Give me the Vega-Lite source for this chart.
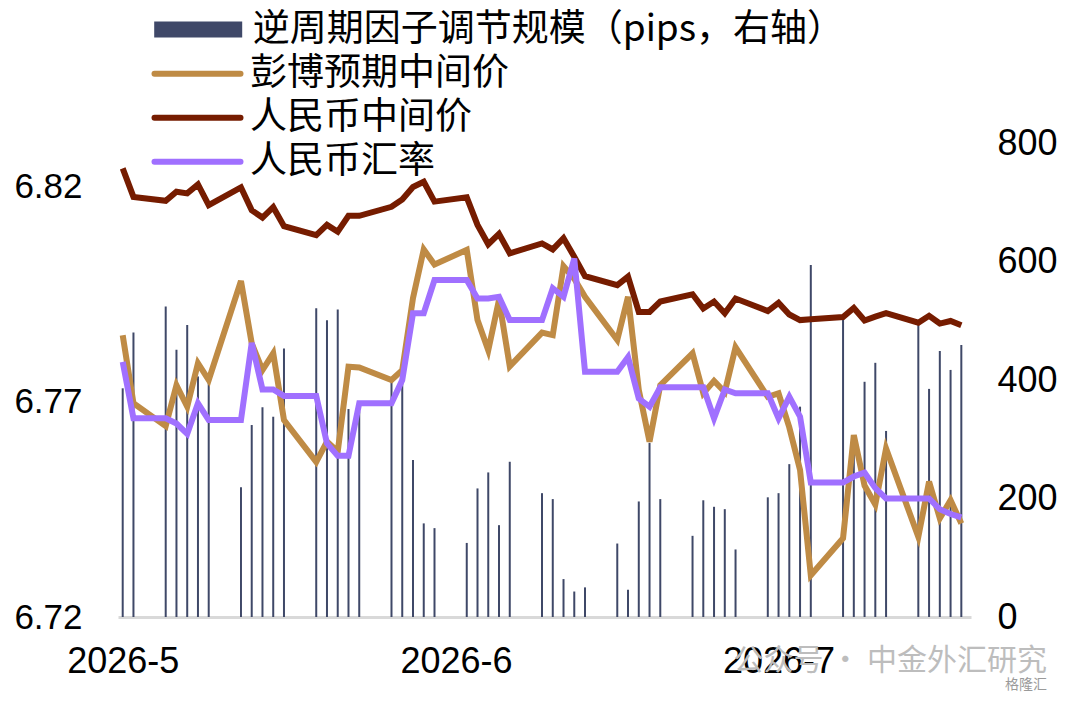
{
  "$schema": "https://vega.github.io/schema/vega-lite/v6.json",
  "width": 853,
  "height": 474,
  "autosize": "none",
  "padding": {"left": 118, "top": 143, "right": 109, "bottom": 87},
  "background": "white",
  "title": {
    "text": "公众号 · 中金外汇研究",
    "subtitle": "格隆汇",
    "orient": "bottom",
    "anchor": "end",
    "dx": -10,
    "offset": -33,
    "font": "Noto Sans CJK SC",
    "fontSize": 30,
    "fontWeight": "normal",
    "color": "#bdbdbd",
    "subtitleFont": "Noto Sans CJK SC",
    "subtitleFontSize": 14,
    "subtitleColor": "#9a9a9a",
    "subtitlePadding": 2
  },
  "data": {
    "values": [
      {"date": "2026-05-01T00:00", "scale": 386, "bbg": 6.7854, "mid": 6.8241, "spot": 6.7792},
      {"date": "2026-05-02T00:00", "scale": 480, "bbg": 6.7696, "mid": 6.8175, "spot": 6.7661},
      {"date": "2026-05-05T00:00", "scale": 524, "bbg": 6.7643, "mid": 6.8166, "spot": 6.7661},
      {"date": "2026-05-06T00:00", "scale": 451, "bbg": 6.7738, "mid": 6.8187, "spot": 6.7649},
      {"date": "2026-05-07T00:00", "scale": 493, "bbg": 6.7688, "mid": 6.8183, "spot": 6.7625},
      {"date": "2026-05-08T00:00", "scale": 406, "bbg": 6.7789, "mid": 6.8204, "spot": 6.7696},
      {"date": "2026-05-09T00:00", "scale": 400, "bbg": 6.7750, "mid": 6.8156, "spot": 6.7657},
      {"date": "2026-05-12T00:00", "scale": 219, "bbg": 6.7980, "mid": 6.8197, "spot": 6.7657},
      {"date": "2026-05-13T00:00", "scale": 324, "bbg": 6.7835, "mid": 6.8144, "spot": 6.7836},
      {"date": "2026-05-14T00:00", "scale": 354, "bbg": 6.7773, "mid": 6.8127, "spot": 6.7728},
      {"date": "2026-05-15T00:00", "scale": 338, "bbg": 6.7812, "mid": 6.8151, "spot": 6.7728},
      {"date": "2026-05-16T00:00", "scale": 453, "bbg": 6.7657, "mid": 6.8107, "spot": 6.7713},
      {"date": "2026-05-19T00:00", "scale": 521, "bbg": 6.7560, "mid": 6.8086, "spot": 6.7713},
      {"date": "2026-05-20T00:00", "scale": 501, "bbg": 6.7607, "mid": 6.8110, "spot": 6.7603},
      {"date": "2026-05-21T00:00", "scale": 519, "bbg": 6.7584, "mid": 6.8094, "spot": 6.7574},
      {"date": "2026-05-22T00:00", "scale": 351, "bbg": 6.7781, "mid": 6.8131, "spot": 6.7574},
      {"date": "2026-05-23T00:00", "scale": 347, "bbg": 6.7779, "mid": 6.8131, "spot": 6.7696},
      {"date": "2026-05-26T00:00", "scale": 397, "bbg": 6.7750, "mid": 6.8152, "spot": 6.7696},
      {"date": "2026-05-27T00:00", "scale": 403, "bbg": 6.7773, "mid": 6.8169, "spot": 6.7750},
      {"date": "2026-05-28T00:00", "scale": 265, "bbg": 6.7940, "mid": 6.8198, "spot": 6.7905},
      {"date": "2026-05-29T00:00", "scale": 158, "bbg": 6.8053, "mid": 6.8210, "spot": 6.7905},
      {"date": "2026-05-30T00:00", "scale": 150, "bbg": 6.8018, "mid": 6.8164, "spot": 6.7982},
      {"date": "2026-06-02T00:00", "scale": 125, "bbg": 6.8052, "mid": 6.8174, "spot": 6.7982},
      {"date": "2026-06-03T00:00", "scale": 217, "bbg": 6.7889, "mid": 6.8110, "spot": 6.7939},
      {"date": "2026-06-04T00:00", "scale": 244, "bbg": 6.7819, "mid": 6.8065, "spot": 6.7939},
      {"date": "2026-06-05T00:00", "scale": 155, "bbg": 6.7936, "mid": 6.8089, "spot": 6.7943},
      {"date": "2026-06-06T00:00", "scale": 262, "bbg": 6.7782, "mid": 6.8044, "spot": 6.7889},
      {"date": "2026-06-09T00:00", "scale": 209, "bbg": 6.7860, "mid": 6.8067, "spot": 6.7889},
      {"date": "2026-06-10T00:00", "scale": 199, "bbg": 6.7854, "mid": 6.8053, "spot": 6.7963},
      {"date": "2026-06-11T00:00", "scale": 64, "bbg": 6.8014, "mid": 6.8079, "spot": 6.7943},
      {"date": "2026-06-12T00:00", "scale": 43, "bbg": 6.7985, "mid": 6.8036, "spot": 6.8032},
      {"date": "2026-06-13T00:00", "scale": 50, "bbg": 6.7943, "mid": 6.7991, "spot": 6.7769},
      {"date": "2026-06-16T00:00", "scale": 124, "bbg": 6.7843, "mid": 6.7970, "spot": 6.7769},
      {"date": "2026-06-17T00:00", "scale": 46, "bbg": 6.7943, "mid": 6.7990, "spot": 6.7803},
      {"date": "2026-06-18T00:00", "scale": 195, "bbg": 6.7727, "mid": 6.7908, "spot": 6.7707},
      {"date": "2026-06-19T00:00", "scale": 294, "bbg": 6.7607, "mid": 6.7908, "spot": 6.7688},
      {"date": "2026-06-20T00:00", "scale": 199, "bbg": 6.7738, "mid": 6.7932, "spot": 6.7733},
      {"date": "2026-06-23T00:00", "scale": 137, "bbg": 6.7812, "mid": 6.7949, "spot": 6.7733},
      {"date": "2026-06-24T00:00", "scale": 197, "bbg": 6.7719, "mid": 6.7916, "spot": 6.7733},
      {"date": "2026-06-25T00:00", "scale": 186, "bbg": 6.7748, "mid": 6.7932, "spot": 6.7661},
      {"date": "2026-06-26T00:00", "scale": 182, "bbg": 6.7722, "mid": 6.7905, "spot": 6.7728},
      {"date": "2026-06-27T00:00", "scale": 114, "bbg": 6.7826, "mid": 6.7939, "spot": 6.7719},
      {"date": "2026-06-30T00:00", "scale": 202, "bbg": 6.7711, "mid": 6.7910, "spot": 6.7719},
      {"date": "2026-07-01T00:00", "scale": 209, "bbg": 6.7719, "mid": 6.7929, "spot": 6.7661},
      {"date": "2026-07-02T00:00", "scale": 258, "bbg": 6.7640, "mid": 6.7902, "spot": 6.7711},
      {"date": "2026-07-03T00:00", "scale": 355, "bbg": 6.7541, "mid": 6.7889, "spot": 6.7665},
      {"date": "2026-07-04T00:00", "scale": 594, "bbg": 6.7297, "mid": 6.7891, "spot": 6.7512},
      {"date": "2026-07-07T00:00", "scale": 503, "bbg": 6.7383, "mid": 6.7896, "spot": 6.7512},
      {"date": "2026-07-08T00:00", "scale": 282, "bbg": 6.7622, "mid": 6.7917, "spot": 6.7526},
      {"date": "2026-07-09T00:00", "scale": 397, "bbg": 6.7505, "mid": 6.7888, "spot": 6.7535},
      {"date": "2026-07-10T00:00", "scale": 429, "bbg": 6.7461, "mid": 6.7897, "spot": 6.7499},
      {"date": "2026-07-11T00:00", "scale": 314, "bbg": 6.7591, "mid": 6.7905, "spot": 6.7475},
      {"date": "2026-07-14T00:00", "scale": 496, "bbg": 6.7386, "mid": 6.7883, "spot": 6.7475},
      {"date": "2026-07-15T00:00", "scale": 385, "bbg": 6.7514, "mid": 6.7899, "spot": 6.7475},
      {"date": "2026-07-16T00:00", "scale": 449, "bbg": 6.7429, "mid": 6.7881, "spot": 6.7450},
      {"date": "2026-07-17T00:00", "scale": 417, "bbg": 6.7471, "mid": 6.7887, "spot": 6.7439},
      {"date": "2026-07-18T00:00", "scale": 459, "bbg": 6.7417, "mid": 6.7877, "spot": 6.7431}
    ]
  },
  "layer": [
    {
      "mark": {"type": "bar", "width": 2},
      "encoding": {
        "x": {
          "field": "date",
          "type": "temporal",
          "scale": {
            "nice": false,
            "padding": 0,
            "domain": [
              {"year": 2026, "month": 4, "date": 30, "hours": 13, "minutes": 30},
              {"year": 2026, "month": 7, "date": 18, "hours": 21, "minutes": 36}
            ]
          },
          "axis": {
            "values": [
              {"year": 2026, "month": 5, "date": 1},
              {"year": 2026, "month": 6, "date": 1},
              {"year": 2026, "month": 7, "date": 1}
            ],
            "format": "%Y-%-m",
            "title": null,
            "grid": false,
            "ticks": false,
            "labelFlush": false,
            "labelPadding": 27,
            "labelFontSize": 36,
            "domainColor": "#d9d9d9",
            "domainWidth": 3
          }
        },
        "y": {
          "field": "scale",
          "type": "quantitative",
          "scale": {"domain": [0, 800]},
          "axis": {
            "orient": "right",
            "values": [0, 200, 400, 600, 800],
            "title": null,
            "grid": false,
            "ticks": false,
            "domain": false,
            "labelPadding": 26,
            "labelFontSize": 36
          }
        },
        "fill": {
          "datum": "逆周期因子调节规模（pips，右轴）",
          "scale": {"range": ["#3f4868"]},
          "legend": {
            "orient": "none",
            "legendX": 61.7,
            "legendY": -132,
            "title": null,
            "padding": 0,
            "symbolType": "M-4.4,-0.8H4.4V0.8H-4.4Z",
            "symbolSize": 400,
            "symbolStrokeWidth": 0,
            "labelOffset": 36,
            "labelFontSize": 37,
            "labelLimit": 0
          }
        }
      }
    },
    {
      "transform": [{"fold": ["bbg", "mid", "spot"], "as": ["series", "value"]}],
      "mark": {"type": "line"},
      "encoding": {
        "x": {"field": "date", "type": "temporal"},
        "y": {
          "field": "value",
          "type": "quantitative",
          "scale": {"domain": [6.72, 6.83], "zero": false},
          "axis": {
            "orient": "left",
            "values": [6.72, 6.77, 6.82],
            "format": ".2f",
            "title": null,
            "grid": false,
            "ticks": false,
            "domain": false,
            "labelPadding": 36,
            "labelFontSize": 35
          }
        },
        "stroke": {
          "field": "series",
          "type": "nominal",
          "scale": {"domain": ["bbg", "mid", "spot"], "range": ["#bf8b45", "#761c00", "#a070ff"]},
          "legend": {
            "orient": "none",
            "legendX": 61,
            "legendY": -87.8,
            "title": null,
            "padding": 0,
            "symbolType": "M-4.3,0H4.3",
            "symbolSize": 400,
            "symbolStrokeWidth": 6,
            "labelOffset": 34,
            "labelFontSize": 37,
            "labelLimit": 0,
            "rowPadding": 6,
            "labelExpr": "datum.value == 'bbg' ? '彭博预期中间价' : datum.value == 'mid' ? '人民币中间价' : '人民币汇率'",
            "encode": {"symbols": {"update": {"strokeCap": {"value": "round"}}}}
          }
        },
        "strokeWidth": {
          "field": "series",
          "type": "nominal",
          "scale": {"domain": ["bbg", "mid", "spot"], "range": [6, 6, 4]},
          "legend": null
        }
      }
    }
  ],
  "resolve": {"scale": {"y": "independent"}},
  "config": {
    "view": {"stroke": null},
    "axis": {"labelFont": "Liberation Sans", "labelColor": "#000000"},
    "legend": {"labelFont": "Noto Sans CJK SC", "labelColor": "#000000"}
  }
}
